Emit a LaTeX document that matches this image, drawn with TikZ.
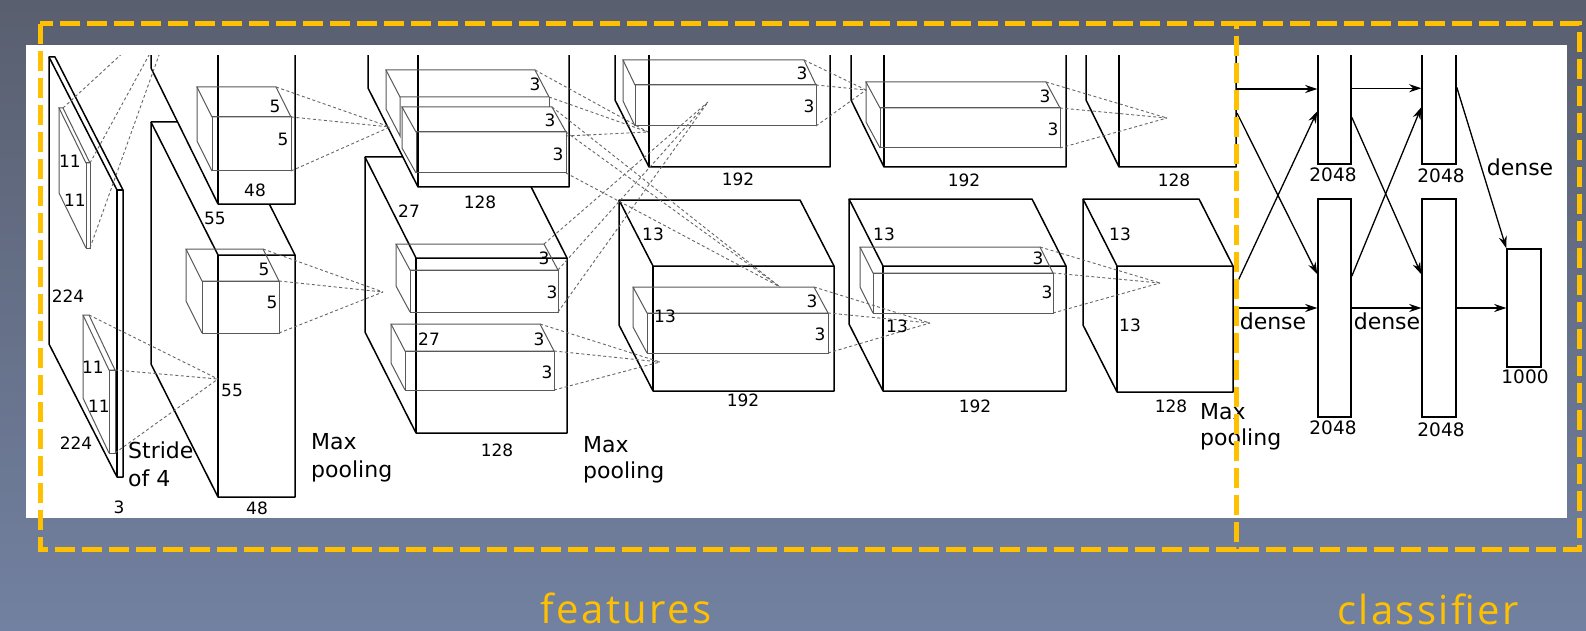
\documentclass[tikz,border=0pt]{standalone}
\usepackage{fontspec}
\setmainfont{DejaVu Sans}
\newfontfamily\grpfont[LetterSpace=6]{Open Sans}
\usetikzlibrary{arrows.meta,positioning}
\definecolor{boxYellow}{RGB}{255,192,0}
\definecolor{bgTop}{RGB}{89,95,111}
\definecolor{bgBottom}{RGB}{114,129,161}

% feature map: back corner x, y, depth dx, dy, front width, height
\newcommand{\layerblock}[6]{%
  \filldraw[block] (#1,#2) -- ({#1+#5},#2) -- ({#1+#5+#3},{#2+#4}) -- ({#1+#5+#3},{#2+#4+#6})
    -- ({#1+#3},{#2+#4+#6}) -- (#1,{#2+#6}) -- cycle;
  \draw[blockline] (#1,#2) -- ({#1+#3},{#2+#4}) -- ({#1+#5+#3},{#2+#4});
  \draw[blockline] ({#1+#3},{#2+#4}) -- ({#1+#3},{#2+#4+#6});
}
% kernel box: name, back corner x, y, dx, dy, width, height
\newcommand{\kernelbox}[7]{%
  \draw[kern] (#2,#3) -- ({#2+#6},#3) -- ({#2+#6+#4},{#3+#5}) -- ({#2+#4},{#3+#5}) -- cycle;
  \draw[kern] (#2,#3) -- (#2,{#3+#7}) -- ({#2+#4},{#3+#5+#7});
  \draw[kern] ({#2+#4},{#3+#5}) rectangle ({#2+#4+#6},{#3+#5+#7});
  \coordinate (#1-a) at ({#2+#6},#3);
  \coordinate (#1-b) at ({#2+#6+#4},{#3+#5});
  \coordinate (#1-c) at ({#2+#6+#4},{#3+#5+#7});
}

\begin{document}
\begin{tikzpicture}[x=1pt,y=-1pt,
    block/.style={draw=black, fill=white, line width=1.5pt, line join=round},
    blockline/.style={draw=black, line width=1.5pt, line join=round},
    kern/.style={draw=black!65, line width=1pt},
    conn/.style={draw=black!60, line width=0.9pt, dash pattern=on 3pt off 2.5pt},
    num/.style={font=\fontsize{17}{17}\selectfont, inner sep=0pt},
    bignum/.style={font=\fontsize{18.5}{18.5}\selectfont, inner sep=0pt},
    txt/.style={font=\fontsize{22}{22}\selectfont, inner sep=0pt},
    fcbox/.style={draw=black, line width=1.5pt, inner sep=0pt},
    fcarrow/.style={line width=1.3pt, -{Stealth[length=12pt,width=8pt]}},
    groupbox/.style={draw=boxYellow, line width=5pt, dash pattern=on 20pt off 7pt},
    grouplabel/.style={text=boxYellow, font=\grpfont\fontsize{40}{40}\selectfont, inner sep=0pt}]
  \useasboundingbox (0,0) rectangle (1586,631);
  \shade[top color=bgTop, bottom color=bgBottom] (0,0) rectangle (1586,631);
  \fill[white] (26,45) rectangle (1567,518);

  \begin{scope}
    \clip (26,55.5) rectangle (1567,518);
    % lower stream first, upper stream in front of it
    \layerblock{49}{57}{68}{133}{6}{287}
    \layerblock{151}{122}{67}{133}{77}{242}
    \layerblock{365}{157}{51}{101}{151}{175}
    \layerblock{619}{200}{34}{66}{181}{125}
    \layerblock{849}{199}{34}{67}{183}{125}
    \layerblock{1083}{199}{34}{67}{116}{126}
    \layerblock{151}{-174}{67}{136}{77}{242}
    \layerblock{368}{-87}{50}{99}{151}{175}
    \layerblock{615}{-25}{34}{67}{181}{125}
    \layerblock{851}{-25}{33}{67}{182}{125}
    \layerblock{1086}{-25}{33}{67}{117}{125}

    % kernels
    \kernelbox{in1}{59}{108}{27}{55}{4}{85}
    \kernelbox{in2}{83}{315}{26}{55}{6}{83}
    \kernelbox{c1a}{197}{87}{15}{30}{79}{54}
    \kernelbox{c1b}{186}{249}{16}{32}{77}{52}
    \draw[kern] (386,70) -- (535,70) -- (549,97) -- (400,97) -- cycle;
    \draw[kern] (386,70) -- (386,109) -- (400,136) -- (400,97);
    \draw[kern] (549,97) -- (549,107);
    \coordinate (c2a-a) at (535,70);
    \coordinate (c2a-b) at (549,97);
    \coordinate (c2a-c) at (566,136);
    \kernelbox{c2b}{402}{107}{14}{25}{150}{41}
    \kernelbox{c2c}{396}{244}{14}{26}{148}{42}
    \kernelbox{c2d}{391}{324}{14}{27}{149}{39}
    \kernelbox{c3a}{623}{60}{12}{25}{181}{41}
    \kernelbox{c3b}{633}{287}{14}{26}{181}{40}
    \kernelbox{c4a}{866}{82}{14}{26}{180}{40}
    \kernelbox{c4b}{860}{247}{13}{26}{180}{40}

    % where the kernels land
    \coordinate (pin1) at (178,2);
    \coordinate (pin2) at (218,379);
    \coordinate (pc1a) at (390,127);
    \coordinate (pc1b) at (383,292);
    \coordinate (pc2a) at (648,132);
    \coordinate (pc2b) at (780,287);
    \coordinate (pc2c) at (708,102);
    \coordinate (pc2d) at (660,362);
    \coordinate (pc3a) at (866,90);
    \coordinate (pc3b) at (930,323);
    \coordinate (pc4a) at (1167,118);
    \coordinate (pc4b) at (1160,283);
    \foreach \k in {in1,in2,c1a,c1b,c2a,c2b,c2c,c2d,c3a,c3b,c4a,c4b} {
      \foreach \c in {a,b,c}
        \draw[conn] (\k-\c) -- (p\k);
    }

    % dense layers
    \node[fcbox, minimum width=33pt, minimum height=124pt] (fc6a) at (1334.5,102) {};
    \node[fcbox, minimum width=33pt, minimum height=218pt] (fc6b) at (1334.5,308) {};
    \node[fcbox, minimum width=34pt, minimum height=124pt] (fc7a) at (1439,102) {};
    \node[fcbox, minimum width=34pt, minimum height=218pt] (fc7b) at (1439,308) {};
    \node[fcbox, minimum width=34pt, minimum height=118pt] (fc8) at (1524,308) {};
    \coordinate (o5a) at (1237,89);
    \coordinate (o5b) at (1237,113);
    \coordinate (o5c) at (1237,283);
    \coordinate (o5d) at (1237,308);
    \draw[fcarrow] (o5a) -- (o5a -| fc6a.west);
    \draw[fcarrow] (o5b) -- ([yshift=-76pt]fc6b.north west);
    \draw[fcarrow] (o5c) -- ([yshift=-72pt]fc6a.north west);
    \draw[fcarrow] (o5d) -- (fc6b.west);
    \draw[fcarrow] ([yshift=-49pt]fc6a.north east) -- ([yshift=-49pt]fc7a.north west);
    \draw[fcarrow] ([yshift=-78pt]fc6a.north east) -- ([yshift=-76pt]fc7b.north west);
    \draw[fcarrow] ([yshift=-78pt]fc6b.north east) -- ([yshift=-68pt]fc7a.north west);
    \draw[fcarrow] (fc6b.east) -- (fc7b.west);
    \draw[fcarrow] ([yshift=-48pt]fc7a.north east) -- (fc8.north west);
    \draw[fcarrow] (fc7b.east) -- (fc8.west);
  \end{scope}

  % sizes
  \foreach \x/\y/\lbl [count=\i] in {70/161/11, 75/200/11, 68/296/224, 93/367/11, 99/406/11,
      76/443/224, 119/507/3, 275/106/5, 283/139/5, 255/190/48, 215/218/55, 264/269/5,
      272/302/5, 232/390/55, 257/508/48, 535/84/3, 550/120/3, 558/154/3, 480/202/128,
      409/211/27, 544/258/3, 552/292/3, 429/339/27, 539/339/3, 547/372/3, 497/450/128,
      802/73/3, 809/106/3, 738/179/192, 653/234/13, 665/316/13, 812/301/3, 820/334/3,
      743/400/192, 1045/96/3, 1053/129/3, 964/180/192, 884/234/13, 1038/258/3, 1047/292/3,
      897/326/13, 975/406/192, 1174/180/128, 1120/234/13, 1130/325/13, 1171/406/128}
    \node[num] (size\i) at (\x,\y) {\lbl};
  \foreach \x/\y/\lbl [count=\i] in {1333/175/2048, 1333/428/2048, 1441/176/2048,
      1441/430/2048, 1525/377/1000}
    \node[bignum] (units\i) at (\x,\y) {\lbl};
  \foreach \x/\y/\lbl [count=\i] in {128/458/Stride, 128/486/of 4, 311/449/Max,
      311/477/pooling, 583/452/Max, 583/478/pooling, 1200/419/Max, 1200/445/pooling}
    \node[txt, anchor=base west] (note\i) at (\x,\y) {\lbl};
  \foreach \x/\y [count=\i] in {1520/167, 1273/321, 1387/321}
    \node[txt] (dense\i) at (\x,\y) {dense};

  % groups
  \draw[groupbox] (40,24) rectangle (1236,549);
  \draw[groupbox] (1236,24) -- (1579,24) -- (1579,549) -- (1236,549);
  \node[grouplabel, anchor=base] (featlabel) at (626,623) {features};
  \node[grouplabel, anchor=base] (classlabel) at (1428,624) {classifier};
\end{tikzpicture}
\end{document}
